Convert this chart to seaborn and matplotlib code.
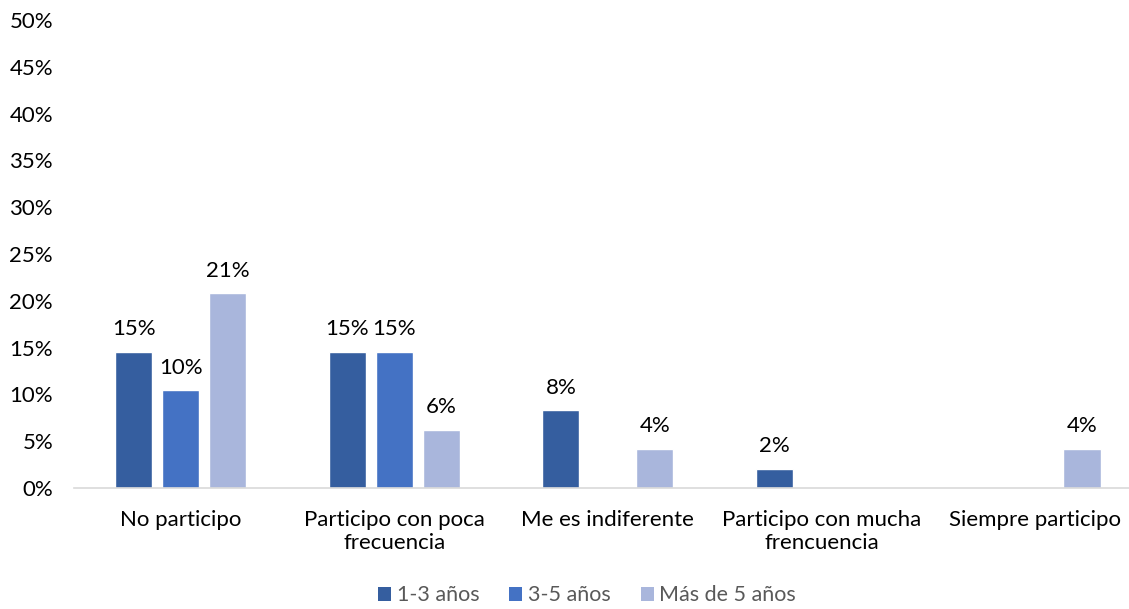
import matplotlib
matplotlib.use("Agg")
import matplotlib.pyplot as plt
import seaborn as sns
import pandas as pd
from matplotlib.patches import Patch

categories = ["No participo", "Participo con poca\nfrecuencia", "Me es indiferente",
              "Participo con mucha\nfrencuencia", "Siempre participo"]
series_names = ["1-3 años", "3-5 años", "Más de 5 años"]
vals_1_3 = [14.58, 14.58, 8.33, 2.08, 0.0]
vals_3_5 = [10.42, 14.58, 0.0, 0.0, 0.0]
vals_mas5 = [20.83, 6.25, 4.17, 0.0, 4.17]
yticks = [0, 5, 10, 15, 20, 25, 30, 35, 40, 45, 50]
colors = ["#355E9F", "#4472C4", "#A9B6DC"]

rows = []
for name, vals in zip(series_names, [vals_1_3, vals_3_5, vals_mas5]):
    for c, v in zip(categories, vals):
        rows.append({"cat": c, "serie": name, "val": v})
df = pd.DataFrame(rows)

sns.set_theme(style="white")
plt.rcParams["font.family"] = ["Lato", "DejaVu Sans"]

fig = plt.figure(figsize=(11.29, 6.09), dpi=100)
ax = fig.add_axes([0.0655, 0.1987, 0.9345, 0.7683])

sns.barplot(data=df, x="cat", y="val", hue="serie", order=categories,
            hue_order=series_names, palette=colors, width=0.66, gap=0.21,
            saturation=1, legend=False, ax=ax)

for cont in ax.containers:
    labels = [f"{b.get_height():.0f}%" if b.get_height() > 0 else "" for b in cont]
    ax.bar_label(cont, labels=labels, padding=9, fontsize=16, color="black")

ax.set_ylim(0, 50)
ax.set_yticks(yticks)
ax.set_yticklabels([f"{t}%" for t in yticks], fontsize=16, color="black")
ax.set_xlim(-0.5, 4.44)
ax.set_xlabel("")
ax.set_ylabel("")
ax.tick_params(axis="x", labelsize=16, colors="black", pad=16, length=0)
for lbl in ax.get_xticklabels():
    lbl.set_linespacing(1.15)
ax.tick_params(axis="y", pad=15, length=0)
for s in ["top", "right", "left"]:
    ax.spines[s].set_visible(False)
ax.spines["bottom"].set_color("#D9D9D9")
ax.spines["bottom"].set_linewidth(1.2)
ax.grid(False)

handles = [Patch(facecolor=c, edgecolor="none") for c in colors]
fig.legend(handles, series_names, loc="lower center", bbox_to_anchor=(0.52, -0.026),
           ncol=3, frameon=False, fontsize=15.5, handlelength=0.6, handleheight=0.6,
           handletextpad=0.25, columnspacing=1.4, labelcolor="#595959")

fig.savefig("out.png", dpi=100)
